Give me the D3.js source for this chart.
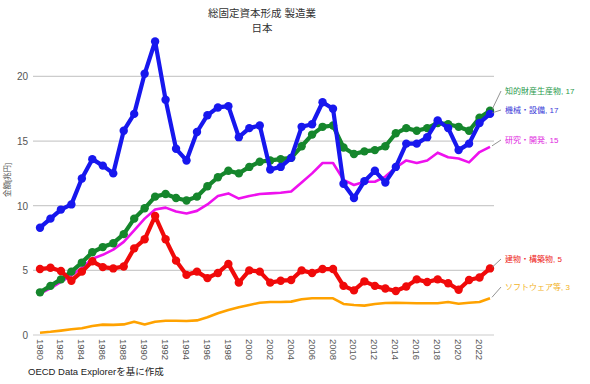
<!DOCTYPE html>
<html lang="ja">
<head>
    <meta charset="UTF-8">
    <title>総固定資本形成 製造業</title>
    <script src="https://d3js.org/d3.v7.min.js"></script>
    <style>
        body { margin: 0; background: #fff; }
        text { font-family: "Liberation Sans", "Noto Sans CJK JP", sans-serif; }
    </style>
</head>
<body>
    <script>
        //Dataset
        var years = d3.range(1980, 2024);

        var machinery = [8.3, 9.0, 9.7, 10.1, 12.1, 13.6, 13.1, 12.5, 15.8, 17.1,
            20.2, 22.7, 18.2, 14.4, 13.5, 15.7, 17.0, 17.6, 17.7, 15.3,
            16.0, 16.2, 12.8, 13.0, 13.7, 16.1, 16.3, 18.0, 17.5, 11.7,
            10.6, 11.9, 12.7, 11.8, 13.0, 14.8, 14.8, 15.3, 16.6, 16.0,
            14.3, 14.8, 16.4, 17.1];
        var ipp = [3.3, 3.8, 4.3, 4.9, 5.6, 6.4, 6.8, 7.1, 7.8, 9.0,
            9.8, 10.7, 10.9, 10.6, 10.4, 10.7, 11.5, 12.2, 12.7, 12.5,
            13.0, 13.4, 13.5, 13.6, 13.7, 14.6, 15.5, 16.1, 16.2, 14.5,
            14.0, 14.2, 14.3, 14.6, 15.6, 16.0, 15.8, 16.0, 16.4, 16.3,
            16.1, 15.8, 16.8, 17.35];
        var rnd = [3.2, 3.6, 4.1, 4.6, 5.2, 5.9, 6.2, 6.6, 7.2, 8.1,
            9.0, 9.7, 9.85, 9.55, 9.4, 9.6, 10.1, 10.75, 10.95, 10.55,
            10.75, 10.9, 10.95, 11.0, 11.1, 11.8, 12.5, 13.3, 13.3, 12.0,
            11.6, 11.85, 11.85, 12.25, 12.95, 13.5, 13.3, 13.5, 14.1, 13.75,
            13.65, 13.35, 14.15, 14.55];
        var buildings = [5.1, 5.2, 4.95, 4.2, 4.9, 5.7, 5.25, 5.15, 5.3, 6.7,
            7.4, 9.2, 7.4, 5.75, 4.65, 4.9, 4.4, 4.8, 5.5, 4.05,
            5.0, 4.9, 4.05, 4.2, 4.25, 5.0, 4.8, 5.1, 5.1, 3.8,
            3.45, 4.15, 3.8, 3.6, 3.4, 3.75, 4.3, 4.1, 4.3, 4.0,
            3.5, 4.25, 4.45, 5.15];
        var software = [0.18, 0.25, 0.34, 0.44, 0.52, 0.7, 0.8, 0.78, 0.82, 1.03,
            0.82, 1.03, 1.1, 1.1, 1.08, 1.13, 1.37, 1.68, 1.93, 2.14,
            2.32, 2.5, 2.55, 2.55, 2.58, 2.76, 2.84, 2.84, 2.84, 2.4,
            2.32, 2.27, 2.4, 2.47, 2.5, 2.47, 2.45, 2.45, 2.45, 2.55,
            2.42, 2.5, 2.55, 2.84];

        var yTicks = [0, 5, 10, 15, 20];
        var xTicks = d3.range(1980, 2024, 2);

        //values, line colour, label colour, label text, markers, label position
        var series = [
            { values: software, color: "#ffa200", labelColor: "#f2b21e", label: "ソフトウェア等, 3", dots: false, w: 2.6, ly: 287 },
            { values: rnd, color: "#ee11ee", labelColor: "#e01ee0", label: "研究・開発, 15", dots: false, w: 2.6, ly: 140 },
            { values: ipp, color: "#15862c", labelColor: "#2a9a4c", label: "知的財産生産物, 17", dots: true, w: 4.2, ly: 91 },
            { values: buildings, color: "#f00a0a", labelColor: "#ee2222", label: "建物・構築物, 5", dots: true, w: 4.2, ly: 259 },
            { values: machinery, color: "#1717ee", labelColor: "#3a3ad8", label: "機械・設備, 17", dots: true, w: 4.2, ly: 110 }
        ];

        //SVG dimensions
        var w = 590;
        var h = 384;

        var svg = d3.select("body")
            .append("svg")
            .attr("width", w)
            .attr("height", h);

        var xScale = d3.scaleLinear()
            .domain([1980, 2023])
            .range([40, 490]);

        var yScale = d3.scaleLinear()
            .domain([0, 23])
            .range([335, 335 - 23 * 12.93]);

        //Grid lines
        svg.selectAll("line.grid")
            .data(yTicks)
            .enter()
            .append("line")
            .attr("class", "grid")
            .attr("x1", 33)
            .attr("x2", 494)
            .attr("y1", function(d) { return yScale(d); })
            .attr("y2", function(d) { return yScale(d); })
            .attr("stroke", "#cccccc")
            .attr("stroke-width", 1.2);

        //Y tick labels
        svg.selectAll("text.ytick")
            .data(yTicks)
            .enter()
            .append("text")
            .attr("class", "ytick")
            .attr("x", 28)
            .attr("y", function(d) { return yScale(d) + 4; })
            .attr("text-anchor", "end")
            .style("font-size", "10px")
            .style("fill", "#555")
            .text(function(d) { return d; });

        //X tick labels (rotated)
        svg.selectAll("text.xtick")
            .data(xTicks)
            .enter()
            .append("text")
            .attr("class", "xtick")
            .attr("transform", function(d) { return "translate(" + (xScale(d) - 3.5) + ",339) rotate(90)"; })
            .attr("text-anchor", "start")
            .style("font-size", "9.5px")
            .style("fill", "#555")
            .text(function(d) { return d; });

        //Y axis title
        svg.append("text")
            .attr("transform", "translate(10,180) rotate(-90)")
            .attr("text-anchor", "middle")
            .style("font-size", "7.5px")
            .style("fill", "#555")
            .text("金額[兆円]");

        //Titles
        svg.append("text")
            .attr("x", 262)
            .attr("y", 17)
            .attr("text-anchor", "middle")
            .style("font-size", "10.5px")
            .style("fill", "#333")
            .text("総固定資本形成 製造業");
        svg.append("text")
            .attr("x", 262)
            .attr("y", 32)
            .attr("text-anchor", "middle")
            .style("font-size", "10.5px")
            .style("fill", "#333")
            .text("日本");

        //Source note
        svg.append("text")
            .attr("x", 28)
            .attr("y", 375)
            .style("font-size", "9.5px")
            .style("fill", "#222")
            .text("OECD Data Explorerを基に作成");

        var line = d3.line()
            .x(function(d, i) { return xScale(years[i]); })
            .y(function(d) { return yScale(d); });

        //Lines, markers and end labels
        series.forEach(function(s) {
            svg.append("path")
                .datum(s.values)
                .attr("d", line)
                .attr("fill", "none")
                .attr("stroke", s.color)
                .attr("stroke-width", s.w)
                .attr("stroke-linejoin", "round");

            if (s.dots) {
                svg.append("g")
                    .selectAll("circle")
                    .data(s.values)
                    .enter()
                    .append("circle")
                    .attr("cx", function(d, i) { return xScale(years[i]); })
                    .attr("cy", function(d) { return yScale(d); })
                    .attr("r", 4.2)
                    .attr("fill", s.color);
            }

            var last = s.values[s.values.length - 1];
            svg.append("line")
                .attr("x1", xScale(2023) + 2)
                .attr("y1", yScale(last) - 1)
                .attr("x2", 501)
                .attr("y2", s.ly)
                .attr("stroke", "#777")
                .attr("stroke-width", 0.8);

            svg.append("text")
                .attr("x", 505)
                .attr("y", s.ly + 3)
                .style("font-size", "8px")
                .style("fill", s.labelColor)
                .text(s.label);
        });
    </script>
</body>
</html>
